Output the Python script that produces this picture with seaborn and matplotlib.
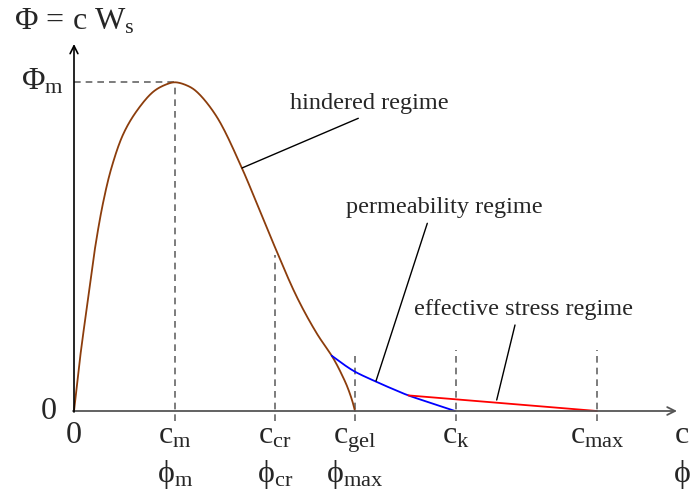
import numpy as np
import pandas as pd
import matplotlib
matplotlib.use("Agg")
import matplotlib.pyplot as plt
import seaborn as sns

sns.set_theme(style="white")
plt.rcParams['font.family'] = ['Liberation Serif', 'DejaVu Serif']
plt.rcParams['mathtext.fontset'] = 'custom'
plt.rcParams['mathtext.rm'] = 'Liberation Serif'
plt.rcParams['mathtext.it'] = 'Liberation Serif:italic'
plt.rcParams['mathtext.bf'] = 'Liberation Serif:bold'

# ---- data (schematic flux curve, chart units) ----
hindered_x = [0, 6, 12.7, 21, 29.3, 37.7, 49.3, 62.7, 79.3, 92, 101, 113, 122.7, 142.7,
              168, 182.7, 199.3, 222.7, 242.7, 257.7, 263, 268, 273, 278, 281]
hindered_y = [0, 52.7, 102.7, 162.7, 209.3, 244, 277, 300, 319.3, 326.5, 328.7, 325.5, 319.3, 294.3,
              242.7, 207.7, 167.7, 114.3, 77.7, 55.3, 46, 36, 25, 11, 0]
perm_x = [257.7, 269.3, 281, 301, 316, 334.3, 357.7, 381]
perm_y = [55.3, 46.8, 39.3, 29.8, 23.2, 15.6, 7.8, 0]
eff_x = [334.3, 523]
eff_y = [15.6, 0]

tick_pos = [0, 101, 201, 281, 382, 523]
tick_c = ['0', r'$\mathrm{c}_{\mathrm{m}}$', r'$\mathrm{c}_{\mathrm{cr}}$',
          r'$\mathrm{c}_{\mathrm{gel}}$', r'$\mathrm{c}_{\mathrm{k}}$', r'$\mathrm{c}_{\mathrm{max}}$']
tick_phi = ['', r'$\mathrm{ϕ}_{\mathrm{m}}$', r'$\mathrm{ϕ}_{\mathrm{cr}}$', r'$\mathrm{ϕ}_{\mathrm{max}}$', '', '']
guide_top = [None, 329, 156, 59, 61, 61]
phi_max_val = 329


def smooth(xs, ys, n=20):
    """Centripetal Catmull-Rom rendering path through the given points."""
    p = np.column_stack([xs, ys]).astype(float)
    p = np.vstack([2 * p[0] - p[1], p, 2 * p[-1] - p[-2]])
    out = []
    for i in range(1, len(p) - 2):
        p0, p1, p2, p3 = p[i - 1], p[i], p[i + 1], p[i + 2]
        t0 = 0.0
        t1 = t0 + np.linalg.norm(p1 - p0) ** 0.5
        t2 = t1 + np.linalg.norm(p2 - p1) ** 0.5
        t3 = t2 + np.linalg.norm(p3 - p2) ** 0.5
        t = np.linspace(t1, t2, n, endpoint=False)[:, None]
        a1 = (t1 - t) / (t1 - t0) * p0 + (t - t0) / (t1 - t0) * p1
        a2 = (t2 - t) / (t2 - t1) * p1 + (t - t1) / (t2 - t1) * p2
        a3 = (t3 - t) / (t3 - t2) * p2 + (t - t2) / (t3 - t2) * p3
        b1 = (t2 - t) / (t2 - t0) * a1 + (t - t0) / (t2 - t0) * a2
        b2 = (t3 - t) / (t3 - t1) * a2 + (t - t1) / (t3 - t1) * a3
        c = (t2 - t) / (t2 - t1) * b1 + (t - t1) / (t2 - t1) * b2
        out.append(c)
    out.append(p[-2][None, :])
    out = np.vstack(out)
    return out[:, 0], out[:, 1]


fig = plt.figure(figsize=(6.91, 4.90), dpi=100)
ax = fig.add_axes([0, 0, 1, 1])
ax.set_xlim(-74, 617)
ax.set_ylim(-79, 411)
ax.axis('off')

brown = '#8c3d0c'
hx, hy = smooth(hindered_x, hindered_y)
px_, py_ = smooth(perm_x, perm_y)
sns.lineplot(x=hx, y=hy, sort=False, color=brown, lw=1.3, ax=ax)
sns.lineplot(x=px_, y=py_, sort=False, color='#0000ff', lw=1.3, ax=ax)
sns.lineplot(x=eff_x, y=eff_y, sort=False, color='#ff0000', lw=1.3, ax=ax)

# guides
dash = dict(color='#666666', lw=1.2, ls=(0, (4, 3)))
for xp, top in zip(tick_pos, guide_top):
    if top is not None:
        ax.plot([xp, xp], [-10, top], **dash, zorder=1)
ax.plot([0, tick_pos[1]], [phi_max_val, phi_max_val], **dash, zorder=1)

# axes with arrows
ax.annotate('', xy=(603, 0), xytext=(-1, 0),
            arrowprops=dict(arrowstyle='->', color='#555555', lw=1.3, shrinkA=0, shrinkB=0,
                            mutation_scale=14))
ax.annotate('', xy=(0, 367), xytext=(0, -1),
            arrowprops=dict(arrowstyle='->', color='black', lw=1.2, shrinkA=0, shrinkB=0,
                            mutation_scale=14))

fs = 23
ax.text(-60, 389, r'$\Phi\,=\,\mathrm{c\ W_s}$', fontsize=fs, ha='left', va='center')
ax.text(-32, 329, r'$\Phi_{\mathrm{m}}$', fontsize=fs, ha='center', va='center')
ax.text(-25, 0, '0', fontsize=fs, ha='center', va='center')
for xp, lab, ph in zip(tick_pos, tick_c, tick_phi):
    ax.text(xp, -32, lab, fontsize=fs, ha='center', va='baseline')
    if ph:
        ax.text(xp, -71, ph, fontsize=fs, ha='center', va='baseline')
ax.text(608, -32, r'$\mathrm{c}$', fontsize=fs, ha='center', va='baseline')
ax.text(608, -71, r'$\mathrm{ϕ}$', fontsize=fs, ha='center', va='baseline')

# annotations
afs = 17.5
ax.text(295, 308, 'hindered regime', fontsize=afs, ha='center', va='center')
ax.plot([168, 284.3], [243, 292.7], color='black', lw=1.0)
ax.text(370, 203, 'permeability regime', fontsize=afs, ha='center', va='center')
ax.plot([302, 353.3], [30, 187.7], color='black', lw=1.0)
ax.text(449, 102, 'effective stress regime', fontsize=afs, ha='center', va='center')
ax.plot([422.7, 441], [11, 86], color='black', lw=1.0)

fig.savefig('out.png', dpi=100)
